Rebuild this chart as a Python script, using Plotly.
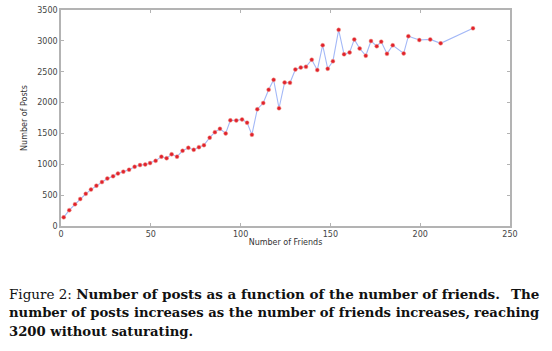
import plotly.graph_objects as go

friends = [1.5, 4.6, 7.8, 10.7, 13.8, 16.7, 19.7, 22.8, 25.8, 29.0, 31.7, 34.7, 37.9, 41.0,
           44.0, 46.9, 49.6, 52.7, 55.9, 58.8, 61.6, 64.6, 67.7, 70.9, 73.9, 76.8, 79.6,
           82.8, 85.7, 88.5, 91.7, 94.3, 97.6, 100.8, 103.6, 106.3, 109.3, 112.6, 115.6,
           118.4, 121.4, 124.5, 127.5, 130.5, 133.5, 136.4, 139.6, 142.7, 145.7, 148.5,
           151.4, 154.6, 157.6, 160.7, 163.3, 166.3, 169.7, 172.6, 175.8, 178.3, 181.5,
           184.7, 190.8, 193.4, 199.5, 205.6, 211.4, 229.4]
posts = [140, 257, 352, 437, 521, 590, 654, 711, 770, 806, 849, 881, 913, 960,
         987, 997, 1019, 1056, 1124, 1098, 1162, 1124, 1219, 1267, 1235, 1278, 1310,
         1432, 1521, 1575, 1500, 1712, 1711, 1727, 1675, 1479, 1892, 1992, 2209,
         2368, 1908, 2325, 2320, 2537, 2568, 2579, 2695, 2527, 2929, 2548,
         2670, 3178, 2781, 2813, 3024, 2876, 2759, 2997, 2913, 2987, 2790,
         2929, 2797, 3076, 3013, 3024, 2960, 3203]

x_ticks = [0, 50, 100, 150, 200, 250]
y_ticks = [0, 500, 1000, 1500, 2000, 2500, 3000, 3500]

# caption lines: (left-aligned part, right-aligned part, font size)
caption_lines = [
    ("Figure 2: <b>Number of posts as a function of the number of friends.</b>", "<b>The</b>", 13.5),
    ("<b>number of posts increases as the number of friends increases,</b>", "<b>reaching</b>", 13.2),
    ("<b>3200 without saturating.</b>", None, 13.2),
]

fig = go.Figure()
fig.add_trace(go.Scatter(
    x=friends, y=posts, mode="lines+markers",
    line=dict(color="#a3b8f7", width=1.1),
    marker=dict(color="#e0222d", size=4, line=dict(color="#f3a090", width=0.5)),
    hoverinfo="skip", showlegend=False,
))

axis_common = dict(
    showline=True, linecolor="#b3b3b3", linewidth=1.5, mirror="ticks",
    ticks="inside", ticklen=3, tickcolor="#b3b3b3", tickwidth=1,
    showgrid=False, zeroline=False,
    tickfont=dict(family="DejaVu Sans", size=8, color="#444444"),
    title_font=dict(family="DejaVu Sans", size=8, color="#333333"),
)

fig.update_xaxes(range=[0, 250], tickvals=x_ticks, title_text="Number of Friends",
                 title_standoff=1, **axis_common)
fig.update_yaxes(range=[0, 3500], tickvals=y_ticks, title_text="Number of Posts",
                 title_standoff=8, **axis_common)

ys = [296, 315, 334]
plot_w = 552 - 61 - 42
plot_h = 351 - 6 - 124.5


def px_to_paper_x(px):
    return (px - 61) / plot_w


def py_to_paper_y(py):
    return (226.5 - py) / plot_h


for (left, right, fsize), yc in zip(caption_lines, ys):
    cap_font = dict(family="DejaVu Serif", size=fsize, color="#111111")
    fig.add_annotation(text=left, xref="paper", yref="paper",
                       x=px_to_paper_x(7), y=py_to_paper_y(yc),
                       xanchor="left", yanchor="middle", showarrow=False, font=cap_font)
    if right:
        fig.add_annotation(text=right, xref="paper", yref="paper",
                           x=px_to_paper_x(541), y=py_to_paper_y(yc),
                           xanchor="right", yanchor="middle", showarrow=False, font=cap_font)

fig.update_layout(
    width=552, height=351, autosize=False,
    margin=dict(l=61, r=42, t=6, b=124.5),
    paper_bgcolor="white", plot_bgcolor="white",
)

fig.write_html("out.html")
